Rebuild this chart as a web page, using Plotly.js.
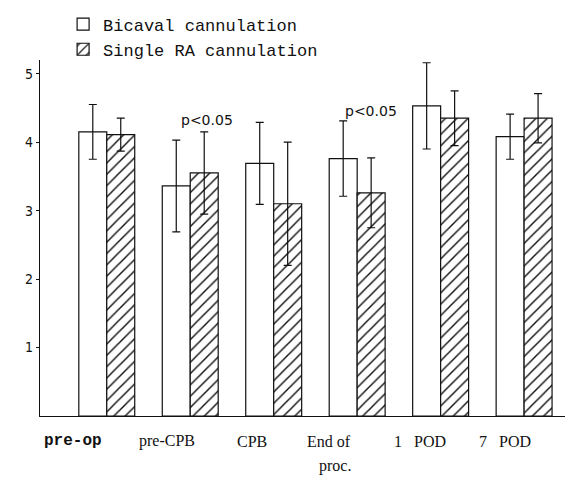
<!DOCTYPE html>
<html>
<head>
<meta charset="utf-8">
<script src="https://cdn.plot.ly/plotly-3.0.1.min.js"></script>
<style>html,body{margin:0;padding:0;background:#fff;}#chart{width:572px;height:484px;}</style>
</head>
<body>
<div id="chart"></div>
<script>
const categories = ['pre-op', 'pre-CPB', 'CPB', 'End of proc.', '1 POD', '7 POD'];
const bicaval = [4.15, 3.36, 3.69, 3.76, 4.53, 4.08];
const bicavalSD = [0.40, 0.67, 0.60, 0.55, 0.63, 0.33];
const singleRA = [4.11, 3.55, 3.10, 3.26, 4.35, 4.35];
const singleRASD = [0.24, 0.60, 0.90, 0.51, 0.40, 0.36];
const yTicks = [1, 2, 3, 4, 5];
const seriesNames = ['Bicaval cannulation', 'Single RA cannulation'];
const sigText = 'p<0.05';
const sigGroups = ['pre-CPB', 'End of proc.'];

const errStyle = {type: 'data', visible: true, color: '#111', thickness: 1.2, width: 4};

const traces = [
  {
    type: 'bar', name: seriesNames[0], x: categories, y: bicaval,
    marker: {color: '#ffffff', line: {color: '#111', width: 1.2}},
    error_y: Object.assign({array: bicavalSD}, errStyle)
  },
  {
    type: 'bar', name: seriesNames[1], x: categories, y: singleRA,
    marker: {color: '#ffffff', line: {color: '#111', width: 1.2},
      pattern: {shape: '/', fgcolor: '#111', bgcolor: '#ffffff', size: 8, solidity: 0.18}},
    error_y: Object.assign({array: singleRASD}, errStyle)
  }
];

// x-axis labels drawn as annotations (offset left of group centres as in the original)
const serif = 'Liberation Serif, Times New Roman, serif';
const labelSpecs = [
  {i: 0, dx: -0.40, text: '<b>pre-op</b>', font: {family: 'Liberation Mono, Courier New, monospace', size: 16}, yl: 0},
  {i: 1, dx: -0.28, text: 'pre-CPB', font: {family: serif, size: 16}, yl: 0},
  {i: 2, dx: -0.26, text: 'CPB', font: {family: serif, size: 16}, yl: 0},
  {i: 3, dx: -0.34, text: 'End of', font: {family: serif, size: 16}, yl: 0},
  {i: 3, dx: -0.26, text: 'proc.', font: {family: serif, size: 16}, yl: 1},
  {i: 4, dx: -0.25, text: '1   POD', font: {family: serif, size: 16}, yl: 0},
  {i: 5, dx: -0.23, text: '7   POD', font: {family: serif, size: 16}, yl: 0}
];
const annotations = labelSpecs.map(s => ({
  x: s.i + s.dx, xref: 'x', y: 0, yref: 'paper', yanchor: 'middle', xanchor: 'center',
  yshift: s.yl ? -50 : -25, text: s.text, showarrow: false,
  font: Object.assign({color: '#111'}, s.font)
}));
sigGroups.forEach((g, k) => {
  const idx = categories.indexOf(g);
  const top = Math.max(bicaval[idx] + bicavalSD[idx], singleRA[idx] + singleRASD[idx]);
  annotations.push({
    x: idx + (k === 0 ? 0.2 : 0.16), xref: 'x', y: top, yref: 'y', yanchor: 'bottom',
    yshift: k === 0 ? 2 : 0,
    text: sigText, showarrow: false,
    font: {family: 'DejaVu Sans, sans-serif', size: 14, color: '#111'}
  });
});

const layout = {
  width: 572, height: 484,
  margin: {l: 40, r: 7, t: 58, b: 68},
  paper_bgcolor: '#ffffff', plot_bgcolor: '#ffffff',
  barmode: 'group', bargap: 0.33, bargroupgap: 0,
  showlegend: true,
  legend: {x: 0.044, y: 1.15, xanchor: 'left', yanchor: 'top',
    font: {family: 'Liberation Mono, Courier New, monospace', size: 17, color: '#111'},
    bgcolor: 'rgba(0,0,0,0)', tracegroupgap: 0},
  xaxis: {type: 'category', range: [-0.8, 5.49], showticklabels: false, ticks: '',
    showline: true, linecolor: '#111', linewidth: 1.2, showgrid: false, zeroline: false, fixedrange: true},
  yaxis: {range: [0, 5.2], tickvals: yTicks, ticktext: yTicks.map(String), ticks: 'outside', ticklen: 3,
    tickcolor: '#111', showline: true, linecolor: '#111', linewidth: 1.2, showgrid: false, zeroline: false,
    tickfont: {family: 'Liberation Sans Narrow, DejaVu Sans Condensed, sans-serif', size: 14, color: '#111'}},
  annotations: annotations
};

Plotly.newPlot('chart', traces, layout, {displayModeBar: false, staticPlot: true});
</script>
</body>
</html>
